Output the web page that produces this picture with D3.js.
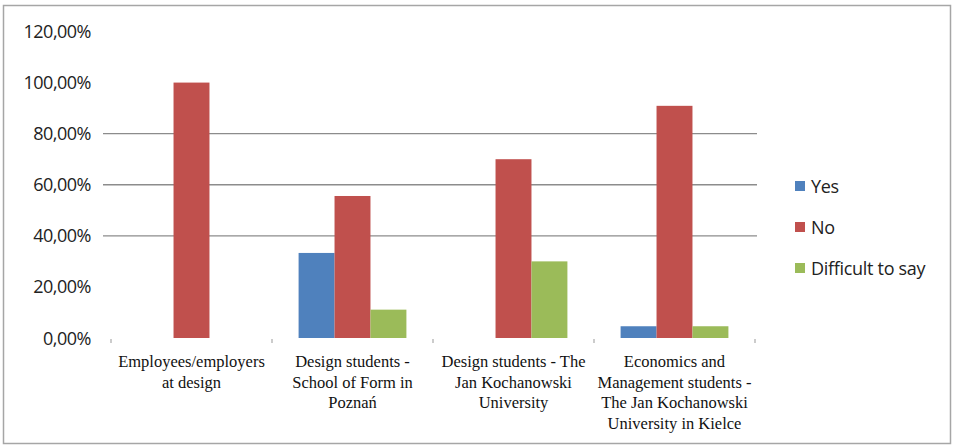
<!DOCTYPE html>
<html>
<head>
<meta charset="utf-8">
<script src="https://cdn.jsdelivr.net/npm/d3@7"></script>
<style>
  body { margin: 0; background: #fff; }
  svg { display: block; }
</style>
</head>
<body>
<svg id="chart"></svg>
<script>
const categories = [
  'Employees/employers at design',
  'Design students - School of Form in Poznań',
  'Design students - The Jan Kochanowski University',
  'Economics and Management students - The Jan Kochanowski University in Kielce',
];
// label lines as they wrap in the picture
const categoryLines = [
  ['Employees/employers', 'at design'],
  ['Design students -', 'School of Form in', 'Poznań'],
  ['Design students - The', 'Jan Kochanowski', 'University'],
  ['Economics and', 'Management students -', 'The Jan Kochanowski', 'University in Kielce'],
];
const seriesNames = ['Yes', 'No', 'Difficult to say'];
const yesValues = [0, 33.3, 0, 4.6];
const noValues = [100, 55.6, 70, 90.9];
const difficultValues = [0, 11.1, 30, 4.6];
const yTicks = [0, 20, 40, 60, 80, 100, 120];
const gridTicks = [40, 60, 80];

const colors = ['#4F81BD', '#C0504D', '#9BBB59'];
const width = 969;
const height = 447;

const svg = d3.select('#chart')
  .attr('width', width)
  .attr('height', height);

// outer frame
svg.append('rect')
  .attr('x', 3.5)
  .attr('y', 5.5)
  .attr('width', 947)
  .attr('height', 438)
  .attr('fill', 'none')
  .attr('stroke', '#a6a6a6')
  .attr('stroke-width', 1.5);

const x = d3.scaleBand()
  .domain(categories)
  .range([111, 755]);
const x1 = d3.scaleBand()
  .domain(seriesNames)
  .range([0, x.bandwidth()])
  .paddingOuter(0.74)
  .paddingInner(0);
const y = d3.scaleLinear()
  .domain([0, 120])
  .range([338, 31.5]);

// grid lines
svg.append('g')
  .selectAll('line')
  .data(gridTicks)
  .enter().append('line')
    .attr('x1', 103)
    .attr('x2', 757)
    .attr('y1', d => y(d))
    .attr('y2', d => y(d))
    .attr('stroke', '#8c8c8c')
    .attr('stroke-width', 1.3);

// y labels
svg.append('g')
  .selectAll('text')
  .data(yTicks)
  .enter().append('text')
    .attr('x', 91)
    .attr('y', d => y(d) + 6.5)
    .attr('text-anchor', 'end')
    .attr('font-family', 'Open Sans, Liberation Sans, sans-serif')
    .attr('font-size', 18)
    .attr('letter-spacing', -0.5)
    .attr('fill', '#222')
    .text(d => d3.format('.2f')(d).replace('.', ',') + '%');

// category boundary ticks
svg.append('g')
  .selectAll('line')
  .data(x.range().concat(categories.slice(1).map(c => x(c))))
  .enter().append('line')
    .attr('x1', d => d)
    .attr('x2', d => d)
    .attr('y1', y(0) + 1)
    .attr('y2', y(0) + 5)
    .attr('stroke', '#999');

// bars
const series = [yesValues, noValues, difficultValues];
const barData = [];
categories.forEach((c, i) => {
  seriesNames.forEach((s, j) => {
    barData.push({ cat: c, name: s, value: series[j][i], color: colors[j] });
  });
});
svg.append('g')
  .selectAll('rect')
  .data(barData.filter(d => d.value > 0))
  .enter().append('rect')
    .attr('x', d => x(d.cat) + x1(d.name))
    .attr('y', d => y(d.value))
    .attr('width', x1.bandwidth())
    .attr('height', d => y(0) - y(d.value))
    .attr('fill', d => d.color);

// category labels
const labels = svg.append('g');
categories.forEach((c, i) => {
  const t = labels.append('text')
    .attr('text-anchor', 'middle')
    .attr('font-family', 'Liberation Serif, DejaVu Serif, serif')
    .attr('font-size', 16.5)
    .attr('fill', '#111');
  t.selectAll('tspan')
    .data(categoryLines[i])
    .enter().append('tspan')
      .attr('x', x(c) + x.bandwidth() / 2)
      .attr('y', (d, k) => 367 + k * 20.5)
      .text(d => d);
});

// legend
const legend = svg.append('g')
  .attr('transform', 'translate(795, 181)');
seriesNames.forEach((s, j) => {
  legend.append('rect')
    .attr('x', 0)
    .attr('y', j * 41)
    .attr('width', 10)
    .attr('height', 10)
    .attr('fill', colors[j]);
  legend.append('text')
    .attr('x', 16)
    .attr('y', j * 41 + 12)
    .attr('font-family', 'Open Sans, Liberation Sans, sans-serif')
    .attr('font-size', 18)
    .attr('letter-spacing', -0.3)
    .attr('fill', '#222')
    .text(s);
});
</script>
</body>
</html>
